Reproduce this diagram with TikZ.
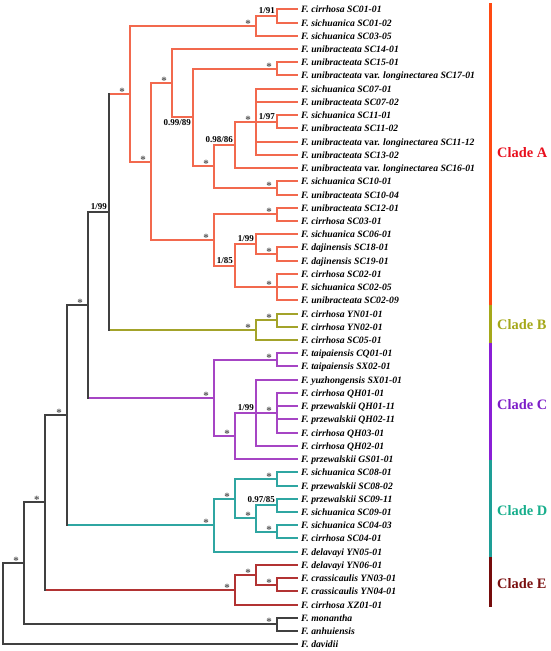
\documentclass[tikz,border=0pt]{standalone}
\usepackage{fontspec}
\setmainfont{Liberation Serif}
\usetikzlibrary{calc}
\definecolor{cA}{HTML}{F2694E}
\definecolor{cAbar}{HTML}{FF4A12}
\definecolor{cAlab}{HTML}{E8101E}
\definecolor{cB}{HTML}{A3A32A}
\definecolor{cBbar}{HTML}{A5A81A}
\definecolor{cC}{HTML}{A645C4}
\definecolor{cCbar}{HTML}{8A1FD6}
\definecolor{cClab}{HTML}{7D1FC8}
\definecolor{cD}{HTML}{2FA6A2}
\definecolor{cDbar}{HTML}{1E9E96}
\definecolor{cDlab}{HTML}{17AE8C}
\definecolor{cE}{HTML}{B23333}
\definecolor{cEbar}{HTML}{760C0C}
\definecolor{cElab}{HTML}{7A1010}
\definecolor{base}{HTML}{404040}
\definecolor{astgray}{HTML}{555555}
\tikzset{
  br/.style={line width=2pt},
  bA/.style={br,cA}, bB/.style={br,cB}, bC/.style={br,cC}, bD/.style={br,cD}, bE/.style={br,cE},
  bK/.style={br,base,line width=2.1pt},
  leaf/.style={anchor=west,inner xsep=3pt,inner ysep=0pt,text height=7pt,text depth=1pt,
    font=\fontsize{9.7}{10}\selectfont\bfseries\itshape},
  sup/.style={anchor=base east,inner sep=0pt,font=\fontsize{9}{10}\selectfont\bfseries},
  supb/.style={anchor=north east,inner sep=0pt,font=\fontsize{9}{10}\selectfont\bfseries},
  ast/.style={anchor=base,inner sep=0pt,text=astgray,font=\fontsize{11}{11}\selectfont\bfseries},
  cladelab/.style={anchor=west,inner sep=0pt,font=\fontsize{14.4}{16}\selectfont\bfseries},
  cbar/.style={line width=3pt}
}
\begin{document}
\begin{tikzpicture}[x=1pt,y=-1pt]
\useasboundingbox (0,0) rectangle (550,651);
% leaves
\foreach \txt [count=\i from 0] in {
F. cirrhosa SC01-01, F. sichuanica SC01-02, F. sichuanica SC03-05, F. unibracteata SC14-01,
F. unibracteata SC15-01, F. unibracteata {\upshape var.} longinectarea SC17-01,
F. sichuanica SC07-01, F. unibracteata SC07-02, F. sichuanica SC11-01, F. unibracteata SC11-02,
F. unibracteata {\upshape var.} longinectarea SC11-12, F. unibracteata SC13-02,
F. unibracteata {\upshape var.} longinectarea SC16-01, F. sichuanica SC10-01,
F. unibracteata SC10-04, F. unibracteata SC12-01, F. cirrhosa SC03-01, F. sichuanica SC06-01,
F. dajinensis SC18-01, F. dajinensis SC19-01, F. cirrhosa SC02-01, F. sichuanica SC02-05,
F. unibracteata SC02-09, F. cirrhosa YN01-01, F. cirrhosa YN02-01, F. cirrhosa SC05-01,
F. taipaiensis CQ01-01, F. taipaiensis SX02-01, F. yuzhongensis SX01-01, F. cirrhosa QH01-01,
F. przewalskii QH01-11, F. przewalskii QH02-11, F. cirrhosa QH03-01, F. cirrhosa QH02-01,
F. przewalskii GS01-01, F. sichuanica SC08-01, F. przewalskii SC08-02, F. przewalskii SC09-11,
F. sichuanica SC09-01, F. sichuanica SC04-03, F. cirrhosa SC04-01, F. delavayi YN05-01,
F. delavayi YN06-01, F. crassicaulis YN03-01, F. crassicaulis YN04-01, F. cirrhosa XZ01-01,
F. monantha, F. anhuiensis, F. davidii}
  {\node[leaf] (t\i) at (298,{round(9.3+13.229*\i)}) {\txt};}
% internal nodes
\coordinate (A1) at (277,16);
\coordinate (A2) at (256,26);
\coordinate (A3) at (277,69);
\coordinate (A5) at (277,122);
\coordinate (A6) at (256,122);
\coordinate (A7) at (235,145);
\coordinate (A8) at (277,188);
\coordinate (A9) at (214,166);
\coordinate (A10) at (193,117);
\coordinate (A11) at (172,83);
\coordinate (A12) at (277,214);
\coordinate (A13) at (277,254);
\coordinate (A14) at (256,244);
\coordinate (A15) at (277,287);
\coordinate (A16) at (235,266);
\coordinate (A17) at (214,240);
\coordinate (A18) at (151,162);
\coordinate (A19) at (130,94);
\coordinate (B1) at (277,320);
\coordinate (B2) at (256,330);
\coordinate (N5) at (109,212);
\coordinate (C1) at (277,360);
\coordinate (C2) at (277,413);
\coordinate (C3) at (256,413);
\coordinate (C4) at (235,436);
\coordinate (C5) at (214,398);
\coordinate (N4) at (88,305);
\coordinate (D1) at (277,479);
\coordinate (D2) at (277,505);
\coordinate (D3) at (277,532);
\coordinate (D4) at (256,518);
\coordinate (D5) at (235,499);
\coordinate (D6) at (214,525);
\coordinate (N3) at (67,415);
\coordinate (E1) at (277,585);
\coordinate (E2) at (256,575);
\coordinate (E3) at (235,590);
\coordinate (N2) at (45,502);
\coordinate (O1) at (277,624);
\coordinate (N1) at (24,563);
\coordinate (N0) at (3,603.5);
% clade A edges
\foreach \p/\c in {A1/t0.west, A1/t1.west, A2/A1, A2/t2.west, A3/t4.west, A3/t5.west,
  A5/t8.west, A5/t9.west, A6/t6.west, A6/t7.west, A6/A5, A6/t10.west, A6/t11.west,
  A7/A6, A7/t12.west, A8/t13.west, A8/t14.west, A9/A7, A9/A8, A10/A3, A10/A9,
  A11/t3.west, A11/A10, A12/t15.west, A12/t16.west, A13/t18.west, A13/t19.west,
  A14/t17.west, A14/A13, A15/t20.west, A15/t21.west, A15/t22.west, A16/A14, A16/A15,
  A17/A12, A17/A16, A18/A11, A18/A17, A19/A2, A19/A18}
  {\draw[bA] (\p) |- (\c);}
% clade B
\foreach \p/\c in {B1/t23.west, B1/t24.west, B2/B1, B2/t25.west}
  {\draw[bB] (\p) |- (\c);}
% clade C
\foreach \p/\c in {C1/t26.west, C1/t27.west, C2/t29.west, C2/t30.west, C2/t31.west, C2/t32.west,
  C3/t28.west, C3/C2, C3/t33.west, C4/C3, C4/t34.west, C5/C1, C5/C4}
  {\draw[bC] (\p) |- (\c);}
% clade D
\foreach \p/\c in {D1/t35.west, D1/t36.west, D2/t37.west, D2/t38.west, D3/t39.west, D3/t40.west,
  D4/D2, D4/D3, D5/D1, D5/D4, D6/D5, D6/t41.west}
  {\draw[bD] (\p) |- (\c);}
% clade E
\foreach \p/\c in {E1/t43.west, E1/t44.west, E2/t42.west, E2/E1, E3/E2, E3/t45.west}
  {\draw[bE] (\p) |- (\c);}
% backbone
\foreach \p/\c/\s in {N5/A19/bA, N5/B2/bB, N4/C5/bC, N3/D6/bD, N2/E3/bE}
  {\draw[\s] (\p|-\c) -- (\c);
   \draw[bK,line cap=rect] (\p) -- (\p|-\c);}
\foreach \p/\c in {N4/N5, N3/N4, N2/N3, N1/N2, N1/O1, N0/N1, N0/t48.west, O1/t46.west, O1/t47.west}
  {\draw[bK] (\p) |- (\c);}
% support values
\node[sup] (l1) at ($(A1)+(-2,-3)$) {1/91};
\node[sup] (l2) at ($(A5)+(-2,-3)$) {1/97};
\node[sup] (l3) at ($(A7)+(-2,-3)$) {0.98/86};
\node[supb] (l4) at ($(A10)+(-2,2.5)$) {0.99/89};
\node[sup] (l5) at ($(A14)+(-2,-3)$) {1/99};
\node[sup] (l6) at ($(A16)+(-2,-3)$) {1/85};
\node[sup] (l7) at ($(N5)+(-2,-3)$) {1/99};
\node[sup] (l8) at ($(C3)+(-2,-3)$) {1/99};
\node[sup] (l9) at ($(D2)+(-2,-3)$) {0.97/85};
\foreach \n in {A2,A3,A6,A8,A9,A11,A12,A13,A15,A17,A18,A19,B1,B2,C1,C2,C4,C5,N4,D1,D3,D4,D5,D6,N3,E1,E2,E3,N2,O1,N1}
  {\node[ast] (s\n) at ($(\n)+(-8,1.5)$) {*};}
% clade bars
\draw[cbar,cAbar] (490.7,3) -- (490.7,305);
\draw[cbar,cBbar] (490.7,305) -- (490.7,343);
\draw[cbar,cCbar] (490.7,343) -- (490.7,460);
\draw[cbar,cDbar] (490.7,460) -- (490.7,557);
\draw[cbar,cEbar] (490.7,557) -- (490.7,607);
\node[cladelab,text=cAlab] (cla) at (497,153) {Clade A};
\node[cladelab,text=cBbar] (clb) at (497,325) {Clade B};
\node[cladelab,text=cClab] (clc) at (497,405) {Clade C};
\node[cladelab,text=cDlab] (cld) at (497,511) {Clade D};
\node[cladelab,text=cElab] (cle) at (497,584) {Clade E};
\end{tikzpicture}
\end{document}
